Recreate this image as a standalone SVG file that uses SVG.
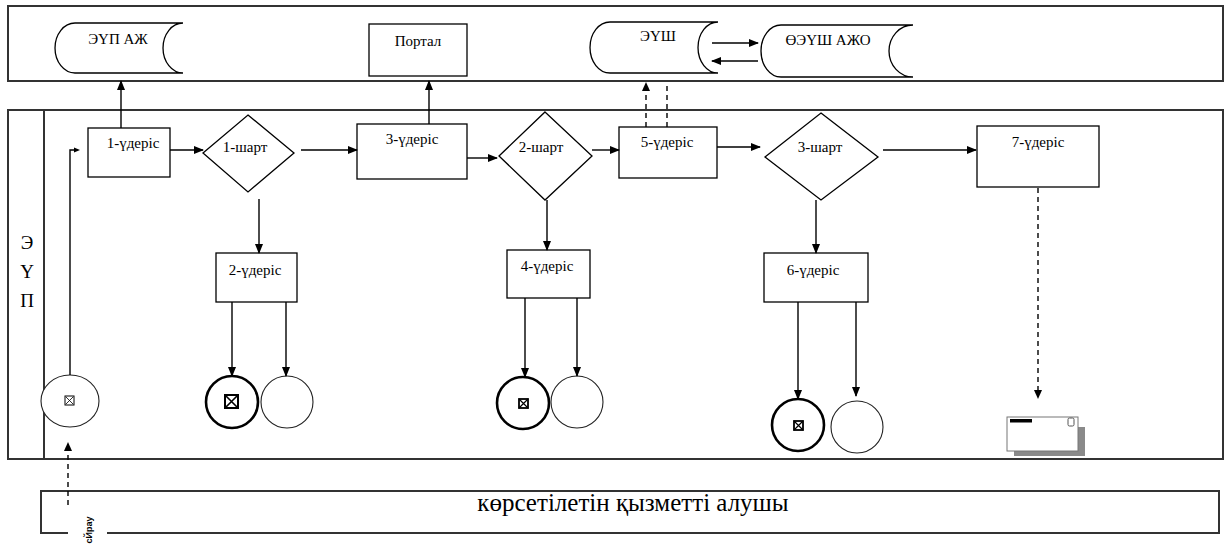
<svg xmlns="http://www.w3.org/2000/svg" width="1229" height="550" viewBox="0 0 1229 550">
<defs>
<marker id="ah" markerWidth="10" markerHeight="8" refX="9" refY="4" orient="auto" markerUnits="userSpaceOnUse"><path d="M0,0 L10,4 L0,8 Z" fill="#000"/></marker>
</defs>
<style>
.lane{fill:none;stroke:#333;stroke-width:2}
.box{fill:#fff;stroke:#000;stroke-width:1.3}
.ln{fill:none;stroke:#000;stroke-width:1.4}
.arr{fill:none;stroke:#000;stroke-width:1.4;marker-end:url(#ah)}
.dash{fill:none;stroke:#000;stroke-width:1.4;stroke-dasharray:5,4}
.t{font-family:"Liberation Serif","Times New Roman",serif;font-size:15px;fill:#000;text-anchor:middle}
.thick{fill:#fff;stroke:#000;stroke-width:2.6}
.thin{fill:#fff;stroke:#222;stroke-width:1.1}
</style>
<rect width="1229" height="550" fill="#fff"/>
<g id="lanes">
<rect class="lane" x="8" y="6" width="1215" height="75"/>
<rect class="lane" x="8" y="110" width="1215" height="349"/>
<line class="lane" x1="44" y1="110" x2="44" y2="459"/>
<text x="27" y="249" font-family="Liberation Serif,serif" font-size="19" text-anchor="middle">Э</text>
<text x="27" y="278" font-family="Liberation Serif,serif" font-size="19" text-anchor="middle">Ү</text>
<text x="27" y="307" font-family="Liberation Serif,serif" font-size="19" text-anchor="middle">П</text>
</g>
<g id="client">
<path class="lane" d="M68,533 H41 V491 H1219 V533 H107"/>
<text x="633" y="511" font-family="Liberation Serif,serif" font-size="25" text-anchor="middle">көрсетілетін қызметті алушы</text>
<text transform="translate(92,530) rotate(-90)" font-family="Liberation Sans,Arial,sans-serif" font-size="9" font-weight="bold" text-anchor="middle">сЙрау</text>
</g>
<g id="epu-aj">
<path class="box" d="M75,23 H183 A20,25 0 0 0 183,73 H75 A20,25 0 0 1 75,23 Z"/>
<text class="t" x="118" y="44">ЭҮП АЖ</text>
</g>
<g id="portal">
<rect class="box" x="369" y="24" width="98" height="52"/>
<text class="t" x="418" y="46">Портал</text>
</g>
<g id="eush">
<path class="box" d="M610,22 H718 A20,25.5 0 0 0 718,73 H610 A20,25.5 0 0 1 610,22 Z"/>
<text class="t" x="658" y="41">ЭҮШ</text>
</g>
<g id="oeush">
<path class="box" d="M781,25 H913 A24,26 0 0 0 913,77 H781 A20,26 0 0 1 781,25 Z"/>
<text class="t" x="828" y="45">ӨЭҮШ АЖО</text>
</g>
<g id="start">
<ellipse class="thin" cx="70" cy="401" rx="29" ry="26"/>
<rect x="65" y="396" width="9" height="9" fill="#fff" stroke="#000" stroke-width="1"/>
<path d="M66,397 L73,404 M73,397 L66,404" stroke="#000" stroke-width="0.8"/>
</g>
<g id="p1">
<rect class="box" x="88" y="128" width="82" height="49"/>
<text class="t" x="133" y="148">1-үдеріс</text>
</g>
<g id="c1">
<path class="box" d="M248,115 L294,153 L248,192 L203,153 Z"/>
<text class="t" x="245" y="152">1-шарт</text>
</g>
<g id="p3">
<rect class="box" x="357" y="124" width="110" height="55"/>
<text class="t" x="412" y="144">3-үдеріс</text>
</g>
<g id="c2">
<path class="box" d="M545,112 L592,156 L545,200 L499,156 Z"/>
<text class="t" x="541" y="152">2-шарт</text>
</g>
<g id="p5">
<rect class="box" x="619" y="127" width="98" height="51"/>
<text class="t" x="667" y="147">5-үдеріс</text>
</g>
<g id="c3">
<path class="box" d="M821,113 L878,157 L821,200 L765,157 Z"/>
<text class="t" x="820" y="152">3-шарт</text>
</g>
<g id="p7">
<rect class="box" x="977" y="126" width="122" height="61"/>
<text class="t" x="1038" y="147">7-үдеріс</text>
</g>
<g id="p2">
<rect class="box" x="216" y="253" width="81" height="49"/>
<text class="t" x="255" y="275">2-үдеріс</text>
</g>
<g id="p4">
<rect class="box" x="507" y="250" width="83" height="48"/>
<text class="t" x="547" y="271">4-үдеріс</text>
</g>
<g id="p6">
<rect class="box" x="764" y="253" width="104" height="49"/>
<text class="t" x="813" y="275">6-үдеріс</text>
</g>
<g id="end2">
<circle class="thick" cx="232" cy="402" r="26"/>
<rect x="225" y="395" width="13" height="13" fill="#fff" stroke="#000" stroke-width="2"/>
<path d="M225,395 L238,408 M238,395 L225,408" stroke="#000" stroke-width="1.6"/>
<circle class="thin" cx="287" cy="402" r="26"/>
</g>
<g id="end4">
<circle class="thick" cx="523" cy="403" r="26"/>
<rect x="519" y="399" width="9" height="9" fill="#fff" stroke="#000" stroke-width="1.8"/>
<path d="M519,399 L528,408 M528,399 L519,408" stroke="#000" stroke-width="1.2"/>
<circle class="thin" cx="577" cy="402" r="26"/>
</g>
<g id="end6">
<circle class="thick" cx="798" cy="425" r="26"/>
<rect x="794" y="421" width="9" height="9" fill="#fff" stroke="#000" stroke-width="1.8"/>
<path d="M794,421 L803,430 M803,421 L794,430" stroke="#000" stroke-width="1.2"/>
<circle class="thin" cx="857" cy="427" r="26"/>
</g>
<g id="envelope">
<rect x="1014" y="427" width="71" height="29" fill="#8a8a8a"/>
<rect x="1007" y="417" width="71" height="34" fill="#fff" stroke="#777" stroke-width="1"/>
<rect x="1010" y="419" width="22" height="3.5" fill="#000"/>
<rect x="1068" y="418" width="6" height="8" rx="1.5" fill="#fff" stroke="#555" stroke-width="1"/>
</g>
<g id="connectors">
<path class="ln" d="M70,375 V150 H74"/>
<path d="M74,147.5 L80,150 L74,152.5 Z" fill="#000"/>
<line class="dash" x1="68" y1="505" x2="68" y2="449"/>
<path d="M64,451 L68,442 L72,451 Z" fill="#000"/>
<line class="arr" x1="121" y1="128" x2="121" y2="81"/>
<line class="arr" x1="170" y1="150" x2="203" y2="150"/>
<line class="arr" x1="301" y1="150" x2="357" y2="150"/>
<line class="arr" x1="429" y1="124" x2="429" y2="81"/>
<line class="arr" x1="467" y1="158" x2="497" y2="158"/>
<line class="arr" x1="592" y1="150" x2="619" y2="150"/>
<line class="dash" x1="646" y1="127" x2="646" y2="90"/>
<path d="M642,91 L646,82 L650,91 Z" fill="#000"/>
<line class="dash" x1="667" y1="127" x2="667" y2="84"/>
<line class="arr" x1="712" y1="43" x2="758" y2="43"/>
<line class="arr" x1="758" y1="61" x2="712" y2="61"/>
<line class="arr" x1="717" y1="147" x2="760" y2="147"/>
<line class="arr" x1="883" y1="150" x2="976" y2="150"/>
<line class="dash" x1="1038" y1="188" x2="1038" y2="392"/>
<path d="M1034,390 L1038,399 L1042,390 Z" fill="#000"/>
<line class="arr" x1="259" y1="199" x2="259" y2="253"/>
<line class="arr" x1="232" y1="302" x2="232" y2="376"/>
<line class="arr" x1="286" y1="302" x2="286" y2="376"/>
<line class="arr" x1="547" y1="200" x2="547" y2="250"/>
<line class="arr" x1="525" y1="298" x2="525" y2="377"/>
<line class="arr" x1="577" y1="298" x2="577" y2="376"/>
<line class="arr" x1="816" y1="200" x2="816" y2="253"/>
<line class="arr" x1="798" y1="302" x2="798" y2="399"/>
<line class="arr" x1="856" y1="302" x2="856" y2="396"/>
</g>
</svg>
